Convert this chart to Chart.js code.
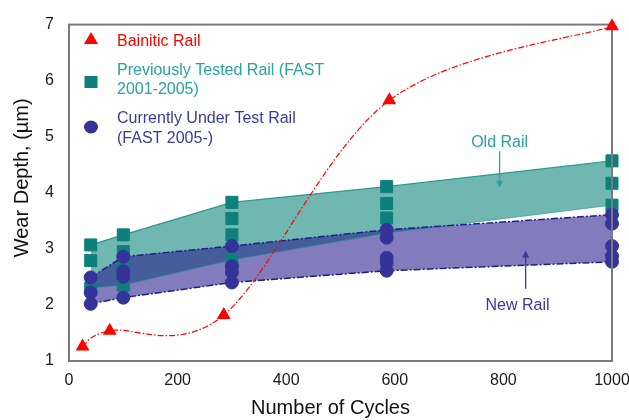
<!DOCTYPE html>
<html>
<head>
<meta charset="utf-8">
<script src="https://cdn.jsdelivr.net/npm/chart.js@4/dist/chart.umd.min.js"></script>
<style>
  html, body { margin: 0; padding: 0; background: #ffffff; }
  #wrap { width: 629px; height: 420px; }
</style>
</head>
<body>
<div id="wrap"><canvas id="chart" width="629" height="420"></canvas></div>
<script>
// Test columns (number of cycles) for the FAST rail measurements
const cycleColumns = [40, 100, 300, 585, 1000];

// Wear depth of previously tested rail (FAST 2001-2005), one list per column
const previouslyTested = [
  [3.07, 2.79, 2.30],
  [3.25, 2.95, 2.65, 2.35],
  [3.83, 3.54, 3.25, 2.80],
  [4.11, 3.81, 3.55, 3.28],
  [4.57, 4.17, 3.78]
];

// Wear depth of rail currently under test (FAST 2005-), one list per column
const underTest = [
  [2.49, 2.22, 2.02],
  [2.86, 2.60, 2.50, 2.13],
  [3.05, 2.69, 2.58, 2.40],
  [3.34, 3.20, 2.84, 2.75, 2.61],
  [3.61, 3.45, 3.05, 2.87, 2.77]
];

// Bainitic rail
const bainiticCycles = [25, 75, 285, 590, 1000];
const bainiticDepth = [1.26, 1.54, 1.82, 5.65, 6.97];

// Axis ticks
const xTicks = [0, 200, 400, 600, 800, 1000];
const yTicks = [1, 2, 3, 4, 5, 6, 7];

const FONT = "'Liberation Sans', Arial, Helvetica, sans-serif";
const RED = '#ff0000';
const TEAL = '#0d807c';
const TEAL_TEXT = '#27a3a0';
const NAVY = '#333399';
const NAVY_TEXT = '#3a3a9c';

const points = (xs, cols) => xs.flatMap((x, i) => cols[i].map(y => ({ x, y })));
const upper = cols => cycleColumns.map((x, i) => ({ x, y: Math.max(...cols[i]) }));
const lower = cols => cycleColumns.map((x, i) => ({ x, y: Math.min(...cols[i]) }));

// Band labels with arrows, placed in data units
const bandNotes = [
  { text: 'Old Rail', color: TEAL_TEXT, x: 793, y: 4.89, arrowX: 793, from: 4.74, to: 4.09 },
  { text: 'New Rail', color: NAVY_TEXT, x: 826, y: 1.99, arrowX: 841, from: 2.29, to: 2.97 }
];

// Spreadsheet-style smoothing: tangent at each point = (next - prev) / 6
const smoothCurve = {
  id: 'smoothCurve',
  beforeDatasetDraw(chart, args) {
    if (args.index !== 0) return;
    const pts = args.meta.data;
    const n = pts.length;
    for (let i = 0; i < n; i++) {
      const p = pts[i];
      const prev = pts[Math.max(i - 1, 0)];
      const next = pts[Math.min(i + 1, n - 1)];
      const tx = (next.x - prev.x) / 6;
      const ty = (next.y - prev.y) / 6;
      p.cp1x = p.x - tx; p.cp1y = p.y - ty;
      p.cp2x = p.x + tx; p.cp2y = p.y + ty;
    }
    args.meta.dataset._pointsUpdated = true;
    args.meta.dataset._path = undefined;
  }
};

const frame = {
  id: 'frame',
  beforeDatasetDraw(chart, args) {
    if (args.index !== 0) return;
    const a = chart.chartArea, ctx = chart.ctx;
    ctx.save();
    ctx.strokeStyle = '#7a7a7a';
    ctx.lineWidth = 2;
    ctx.strokeRect(a.left, a.top, a.right - a.left, a.bottom - a.top);
    ctx.restore();
  }
};

const decorations = {
  id: 'decorations',
  afterDraw(chart) {
    const ctx = chart.ctx, a = chart.chartArea;
    const xs = chart.scales.x, ys = chart.scales.y;
    ctx.save();

    // axis titles
    ctx.fillStyle = '#111111';
    ctx.font = '20px ' + FONT;
    ctx.textAlign = 'center';
    ctx.textBaseline = 'middle';
    ctx.fillText('Number of Cycles', (a.left + a.right) / 2 - 10, a.bottom + 47);
    ctx.save();
    ctx.translate(22, (a.top + a.bottom) / 2 - 15);
    ctx.rotate(-Math.PI / 2);
    ctx.fillText('Wear Depth, (\u00b5m)', 0, 0);
    ctx.restore();

    // legend
    ctx.textAlign = 'left';
    ctx.textBaseline = 'alphabetic';
    ctx.font = '16px ' + FONT;
    const lx = 91, tx = 117;
    ctx.fillStyle = RED;
    ctx.beginPath();
    ctx.moveTo(lx, 32); ctx.lineTo(lx + 7, 44); ctx.lineTo(lx - 7, 44); ctx.closePath();
    ctx.fill();
    ctx.fillText('Bainitic Rail', tx, 46);
    ctx.fillStyle = TEAL;
    ctx.fillRect(lx - 6.5, 76, 13, 12);
    ctx.fillStyle = TEAL_TEXT;
    ctx.fillText('Previously Tested Rail (FAST', tx, 75);
    ctx.fillText('2001-2005)', tx, 94);
    ctx.fillStyle = NAVY;
    ctx.beginPath();
    ctx.ellipse(lx, 127, 7, 6.5, 0, 0, Math.PI * 2);
    ctx.fill();
    ctx.fillStyle = NAVY_TEXT;
    ctx.fillText('Currently Under Test Rail', tx, 123);
    ctx.fillText('(FAST 2005-)', tx, 143);

    // band labels and arrows
    bandNotes.forEach(n => {
      ctx.fillStyle = n.color;
      ctx.strokeStyle = n.color;
      ctx.textAlign = 'center';
      ctx.textBaseline = 'middle';
      ctx.fillText(n.text, xs.getPixelForValue(n.x), ys.getPixelForValue(n.y));
      const ax = xs.getPixelForValue(n.arrowX);
      const y0 = ys.getPixelForValue(n.from), y1 = ys.getPixelForValue(n.to);
      const dir = y1 > y0 ? 1 : -1;
      ctx.lineWidth = 1.3;
      ctx.beginPath();
      ctx.moveTo(ax, y0); ctx.lineTo(ax, y1 - dir * 5);
      ctx.stroke();
      ctx.beginPath();
      ctx.moveTo(ax, y1); ctx.lineTo(ax - 3.5, y1 - dir * 7); ctx.lineTo(ax + 3.5, y1 - dir * 7); ctx.closePath();
      ctx.fill();
    });
    ctx.restore();
  }
};

const bandLine = (data, color, dash, width, fill, bg, order) => ({
  data, borderColor: color, borderDash: dash, borderWidth: width,
  pointRadius: 0, fill, backgroundColor: bg, order, tension: 0
});

new Chart(document.getElementById('chart'), {
  type: 'line',
  data: {
    datasets: [
      {
        label: 'Bainitic Rail',
        data: bainiticCycles.map((x, i) => ({ x, y: bainiticDepth[i] })),
        borderColor: RED, borderWidth: 1.2, borderDash: [6, 2, 1.5, 2],
        tension: 0.4,
        pointStyle: 'triangle', pointRadius: 8, pointBorderWidth: 0,
        pointBackgroundColor: RED, pointBorderColor: RED,
        fill: false, clip: false, order: 0
      },
      {
        label: 'Currently Under Test Rail (FAST 2005-)',
        data: points(cycleColumns, underTest),
        showLine: false, pointStyle: 'circle', pointRadius: 6.5, pointBorderWidth: 1,
        pointBackgroundColor: NAVY, pointBorderColor: NAVY, clip: false, order: 1
      },
      {
        label: 'Previously Tested Rail (FAST 2001-2005)',
        data: points(cycleColumns, previouslyTested),
        showLine: false, pointStyle: 'rect', pointRadius: 8.5, pointBorderWidth: 1,
        pointBackgroundColor: TEAL, pointBorderColor: TEAL, clip: false, order: 2
      },
      bandLine(upper(underTest), '#1f1f8c', [7, 2, 2, 2], 1.5, '+1', 'rgba(40,30,140,0.58)', 3),
      bandLine(lower(underTest), '#1f1f8c', [7, 2, 2, 2], 1.5, false, 'transparent', 3),
      bandLine(upper(previouslyTested), '#2a9a94', [], 1.2, '+1', 'rgba(0,126,118,0.56)', 4),
      bandLine(lower(previouslyTested), 'rgba(42,154,148,0.6)', [], 1, false, 'transparent', 4)
    ]
  },
  options: {
    responsive: false,
    devicePixelRatio: 1,
    animation: false,
    events: [],
    layout: { padding: { top: 22, right: 17, left: 0, bottom: 0 } },
    plugins: {
      legend: { display: false },
      tooltip: { enabled: false },
      filler: { drawTime: 'beforeDatasetsDraw' }
    },
    scales: {
      x: {
        type: 'linear', min: xTicks[0], max: xTicks[xTicks.length - 1],
        afterBuildTicks: s => { s.ticks = xTicks.map(v => ({ value: v })); },
        afterFit: s => { s.height = 59; s.paddingLeft = 0; s.paddingRight = 0; },
        grid: { display: false, drawTicks: false },
        border: { display: false },
        ticks: {
          font: { size: 16, family: FONT }, color: '#1a1a1a', padding: 10, maxRotation: 0,
          callback: v => String(v)
        }
      },
      y: {
        type: 'linear', min: yTicks[0], max: yTicks[yTicks.length - 1],
        afterBuildTicks: s => { s.ticks = yTicks.map(v => ({ value: v })); },
        afterFit: s => { s.width = 69; },
        grid: { display: false, drawTicks: false },
        border: { display: false },
        ticks: { font: { size: 16, family: FONT }, color: '#1a1a1a', padding: 15, callback: v => String(v) }
      }
    }
  },
  plugins: [smoothCurve, frame, decorations]
});
</script>
</body>
</html>
